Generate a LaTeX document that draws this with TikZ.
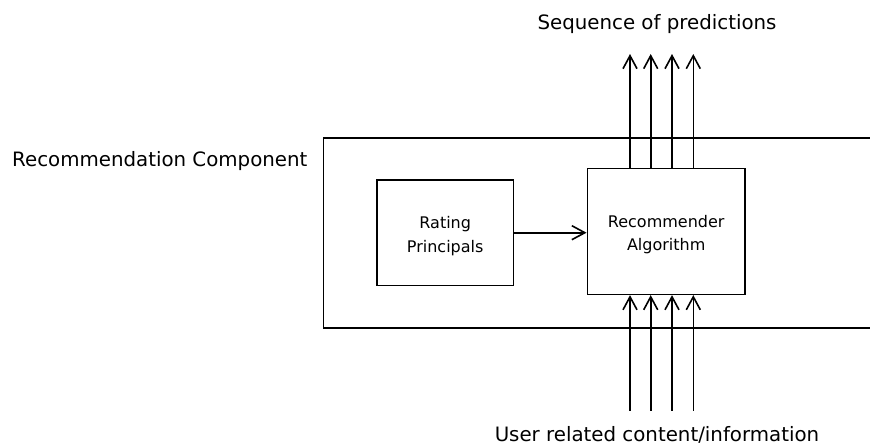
\documentclass[tikz,border=0pt]{standalone}
\usepackage{fontspec}
\setmainfont{DejaVu Sans}
\usetikzlibrary{arrows.meta}
\newcommand{\tallstrut}{\rule{0pt}{19pt}}
\tikzset{
  line/.style={line width=1.6pt, draw=black},
  boxnode/.style={line, rectangle, inner sep=0pt, align=center,
    font=\fontsize{16}{23.4}\selectfont},
  bigtext/.style={font=\fontsize{19.8}{23}\selectfont, inner sep=0pt, anchor=base},
  arr/.style={line, -{Straight Barb[length=13pt,width=14pt,line width=1.6pt]}},
}
\begin{document}
\begin{tikzpicture}[x=1pt,y=-1pt]
\useasboundingbox (0,0) rectangle (870,445);
% outer component (open to the right)
\coordinate (otr) at (870,137.7);
\coordinate (otl) at (323.5,137.7);
\coordinate (obl) at (323.5,327.7);
\coordinate (obr) at (870,327.7);
\draw[line] (otr) -- (otl) -- (obl) -- (obr);
\node[bigtext, anchor=base west] (comp) at (12,166.7) {Recommendation Component};
% inner boxes
\node[boxnode, minimum width=136.3pt, minimum height=105.3pt] (rp) at (445.2,232.7) {\tallstrut Rating\\Principals};
\node[boxnode, minimum width=157.7pt, minimum height=126pt] (ra) at (666.2,231.3) {\tallstrut Recommender\\Algorithm};
\draw[arr] (rp.east) -- (rp.east -| ra.west);
% outputs
\node[bigtext] (seq) at (657,29.3) {Sequence of predictions};
\node[bigtext] (usr) at (657,441.7) {User related content/information};
\foreach \x/\n in {630/1,650.7/2,672/3,693.3/4}{
  \coordinate (top\n) at (\x,54);
  \coordinate (bot\n) at (\x,410.7);
  \draw[arr] (ra.north -| top\n) -- (top\n);
  \draw[arr] (bot\n) -- (ra.south -| bot\n);
}
\end{tikzpicture}
\end{document}
